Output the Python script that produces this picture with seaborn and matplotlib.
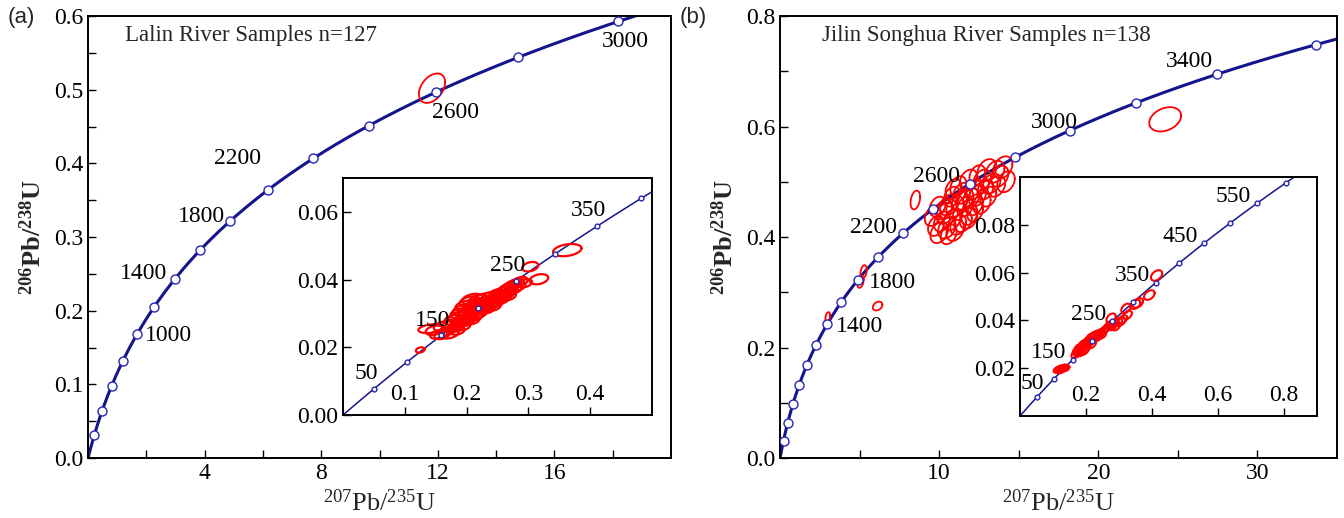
import numpy as np
import pandas as pd
import matplotlib
matplotlib.use("Agg")
import matplotlib.pyplot as plt
import seaborn as sns

# ---------------------------------------------------------------- data
# U decay constants (per Myr) for the Wetherill concordia
LAMBDA_238 = 1.55125e-4
LAMBDA_235 = 9.8485e-4

# age ticks (Ma) on the concordia curves
main_a_ticks = [200, 400, 600, 800, 1000, 1200, 1400, 1600, 1800, 2000,
                2200, 2400, 2600, 2800, 3000]
main_a_labels = [1000, 1400, 1800, 2200, 2600, 3000]
main_b_ticks = [200, 400, 600, 800, 1000, 1200, 1400, 1600, 1800, 2000,
                2200, 2400, 2600, 2800, 3000, 3200, 3400, 3600]
main_b_labels = [1400, 1800, 2200, 2600, 3000, 3400]
inset_a_ticks = [50, 100, 150, 200, 250, 300, 350, 400]
inset_a_labels = [50, 150, 250, 350]
inset_b_ticks = [50, 100, 150, 200, 250, 300, 350, 400, 450, 500, 550, 600]
inset_b_labels = [50, 150, 250, 350, 450, 550]

# Lalin River: Precambrian grain
a_old_x = [11.8]
a_old_y = [0.502]
a_old_sx = [0.45]
a_old_sy = [0.020]

# Lalin River: Phanerozoic grains (207Pb/235U, 206Pb/238U, 2-sigma half axes)
a_young_x = [0.125, 0.142, 0.148, 0.155, 0.160, 0.163, 0.168, 0.172, 0.175, 0.178,
             0.180, 0.183, 0.185, 0.187, 0.189, 0.190, 0.192, 0.194, 0.196, 0.197,
             0.199, 0.200, 0.201, 0.203, 0.205, 0.206, 0.207, 0.209, 0.210, 0.211,
             0.213, 0.214, 0.216, 0.217, 0.219, 0.220, 0.222, 0.224, 0.226, 0.228,
             0.230, 0.231, 0.233, 0.235, 0.237, 0.239, 0.241, 0.243, 0.246, 0.248,
             0.250, 0.252, 0.255, 0.257, 0.260, 0.262, 0.265, 0.267, 0.270, 0.272,
             0.275, 0.278, 0.281, 0.284, 0.287, 0.294, 0.303, 0.317, 0.268, 0.363]
a_young_y = [0.0192, 0.0255, 0.0250, 0.0238, 0.0236, 0.0262, 0.0248, 0.0240, 0.0268, 0.0256,
             0.0281, 0.0262, 0.0249, 0.0290, 0.0272, 0.0300, 0.0281, 0.0262, 0.0310, 0.0292,
             0.0276, 0.0322, 0.0302, 0.0286, 0.0335, 0.0313, 0.0296, 0.0280, 0.0342, 0.0322,
             0.0305, 0.0291, 0.0330, 0.0314, 0.0299, 0.0340, 0.0322, 0.0308, 0.0333, 0.0318,
             0.0345, 0.0327, 0.0312, 0.0338, 0.0324, 0.0350, 0.0333, 0.0320, 0.0345, 0.0332,
             0.0358, 0.0343, 0.0355, 0.0342, 0.0365, 0.0352, 0.0372, 0.0360, 0.0378, 0.0366,
             0.0385, 0.0372, 0.0390, 0.0380, 0.0395, 0.0389, 0.0438, 0.0401, 0.0352, 0.0487]
a_young_sx = [0.007, 0.020, 0.014, 0.014, 0.012, 0.016, 0.013, 0.015, 0.014, 0.012,
              0.016, 0.013, 0.012, 0.015, 0.014, 0.016, 0.013, 0.012, 0.018, 0.014,
              0.013, 0.018, 0.015, 0.013, 0.016, 0.014, 0.013, 0.012, 0.017, 0.015,
              0.013, 0.012, 0.015, 0.014, 0.013, 0.016, 0.014, 0.012, 0.015, 0.013,
              0.016, 0.014, 0.012, 0.015, 0.013, 0.014, 0.013, 0.012, 0.014, 0.012,
              0.013, 0.012, 0.014, 0.012, 0.013, 0.012, 0.013, 0.012, 0.013, 0.011,
              0.012, 0.011, 0.012, 0.011, 0.012, 0.012, 0.013, 0.015, 0.012, 0.023]
a_young_sy = [0.0008, 0.0013, 0.0014, 0.0013, 0.0012, 0.0015, 0.0013, 0.0014, 0.0014, 0.0012,
              0.0015, 0.0013, 0.0012, 0.0015, 0.0014, 0.0015, 0.0013, 0.0012, 0.0016, 0.0014,
              0.0013, 0.0016, 0.0014, 0.0013, 0.0015, 0.0014, 0.0013, 0.0012, 0.0016, 0.0014,
              0.0013, 0.0012, 0.0015, 0.0014, 0.0013, 0.0015, 0.0014, 0.0012, 0.0014, 0.0013,
              0.0015, 0.0014, 0.0012, 0.0014, 0.0013, 0.0014, 0.0013, 0.0012, 0.0014, 0.0013,
              0.0014, 0.0013, 0.0014, 0.0013, 0.0014, 0.0013, 0.0014, 0.0013, 0.0014, 0.0012,
              0.0013, 0.0012, 0.0013, 0.0012, 0.0013, 0.0012, 0.0014, 0.0015, 0.0013, 0.0018]

# Jilin Songhua River: Precambrian grains
b_old_x = [12.7, 13.0, 13.3, 13.5, 13.8, 14.0, 12.9, 13.6, 12.4, 14.2,
           11.84, 12.15, 11.42, 10.8, 11.0, 11.63, 10.38, 12.26, 12.68, 13.09,
           11.2, 11.6, 12.0, 10.6, 11.3, 12.4, 11.9, 10.9, 12.2,
           10.8, 10.17, 10.48, 11.2, 11.84, 9.8, 10.0, 10.6, 11.0, 9.6,
           11.5, 10.3, 9.9,
           8.5, 5.25, 5.05, 6.13, 3.0, 24.2]
b_old_y = [0.503, 0.521, 0.497, 0.518, 0.510, 0.526, 0.486, 0.492, 0.512, 0.500,
           0.503, 0.485, 0.479, 0.473, 0.455, 0.455, 0.443, 0.446, 0.461, 0.473,
           0.492, 0.468, 0.470, 0.458, 0.465, 0.475, 0.440, 0.487, 0.458,
           0.431, 0.428, 0.416, 0.422, 0.434, 0.420, 0.408, 0.405, 0.412, 0.438,
           0.428, 0.450, 0.455,
           0.467, 0.337, 0.319, 0.275, 0.255, 0.613]
b_old_sx = [0.55, 0.60, 0.55, 0.60, 0.55, 0.60, 0.50, 0.55, 0.50, 0.55,
            0.55, 0.50, 0.55, 0.50, 0.55, 0.50, 0.55, 0.50, 0.55, 0.50,
            0.50, 0.55, 0.50, 0.55, 0.50, 0.55, 0.50, 0.50, 0.55,
            0.55, 0.50, 0.55, 0.50, 0.55, 0.50, 0.55, 0.50, 0.55, 0.50,
            0.55, 0.50, 0.50,
            0.30, 0.20, 0.20, 0.30, 0.15, 1.00]
b_old_sy = [0.019, 0.020, 0.018, 0.020, 0.019, 0.020, 0.018, 0.019, 0.018, 0.019,
            0.019, 0.018, 0.019, 0.018, 0.019, 0.018, 0.019, 0.018, 0.019, 0.018,
            0.018, 0.019, 0.018, 0.019, 0.018, 0.019, 0.018, 0.018, 0.019,
            0.019, 0.018, 0.019, 0.018, 0.019, 0.018, 0.019, 0.018, 0.019, 0.018,
            0.019, 0.018, 0.018,
            0.017, 0.012, 0.011, 0.008, 0.009, 0.022]

# Jilin Songhua River: Phanerozoic grains
b_young_x = [0.112, 0.119, 0.126, 0.133, 0.140, 0.122, 0.130,
             0.168, 0.172, 0.176, 0.178, 0.182, 0.185, 0.187, 0.190, 0.192, 0.195,
             0.197, 0.200, 0.203, 0.205, 0.208, 0.210, 0.213, 0.215, 0.218, 0.221,
             0.224, 0.228, 0.232, 0.236, 0.240, 0.245, 0.250, 0.255, 0.186, 0.199,
             0.262, 0.270, 0.276, 0.280, 0.286, 0.291, 0.296, 0.306, 0.312, 0.321,
             0.326, 0.350, 0.357, 0.392, 0.414]
b_young_y = [0.0193, 0.0198, 0.0201, 0.0203, 0.0200, 0.0190, 0.0195,
             0.0258, 0.0272, 0.0262, 0.0285, 0.0270, 0.0292, 0.0278, 0.0300, 0.0285, 0.0272,
             0.0305, 0.0292, 0.0312, 0.0298, 0.0320, 0.0306, 0.0328, 0.0313, 0.0300, 0.0335,
             0.0320, 0.0340, 0.0327, 0.0345, 0.0334, 0.0350, 0.0340, 0.0358, 0.0266, 0.0280,
             0.0368, 0.0380, 0.0409, 0.0375, 0.0388, 0.0374, 0.0392, 0.0395, 0.0405, 0.0450,
             0.0423, 0.0467, 0.0473, 0.0506, 0.0588]
b_young_sx = [0.010, 0.011, 0.010, 0.011, 0.010, 0.010, 0.011,
              0.012, 0.012, 0.011, 0.012, 0.012, 0.011, 0.012, 0.012, 0.011, 0.012,
              0.012, 0.011, 0.012, 0.012, 0.011, 0.012, 0.012, 0.011, 0.012, 0.012,
              0.011, 0.012, 0.012, 0.011, 0.012, 0.012, 0.011, 0.012, 0.011, 0.012,
              0.012, 0.012, 0.014, 0.012, 0.012, 0.012, 0.013, 0.013, 0.013, 0.014,
              0.013, 0.015, 0.016, 0.016, 0.017]
b_young_sy = [0.0012, 0.0013, 0.0012, 0.0013, 0.0012, 0.0012, 0.0013,
              0.0016, 0.0016, 0.0015, 0.0016, 0.0016, 0.0015, 0.0016, 0.0016, 0.0015, 0.0016,
              0.0016, 0.0015, 0.0016, 0.0016, 0.0015, 0.0016, 0.0016, 0.0015, 0.0016, 0.0016,
              0.0015, 0.0016, 0.0016, 0.0015, 0.0016, 0.0016, 0.0015, 0.0016, 0.0015, 0.0016,
              0.0016, 0.0016, 0.0020, 0.0016, 0.0016, 0.0016, 0.0017, 0.0017, 0.0017, 0.0020,
              0.0018, 0.0019, 0.0020, 0.0020, 0.0022]

# ---------------------------------------------------------------- style
sns.set_theme(style="ticks")
plt.rcParams["font.family"] = ["Liberation Serif", "DejaVu Serif"]
plt.rcParams["mathtext.default"] = "regular"
plt.rcParams["axes.edgecolor"] = "black"
plt.rcParams["axes.linewidth"] = 1.4

CURVE = "#14148c"
MARK_EDGE = "#2626b4"
RED = "#ff0000"
TICK_FS = 17
AGE_FS = 17
TITLE_FS = 16.5


def concordia(t):
    t = np.asarray(t, dtype=float)
    return np.expm1(LAMBDA_235 * t), np.expm1(LAMBDA_238 * t)


def draw_curve(ax, t_max, ticks, lw, ms):
    t = np.linspace(0, t_max, 600)
    cx, cy = concordia(t)
    sns.lineplot(x=cx, y=cy, ax=ax, color=CURVE, lw=lw, sort=False,
                 estimator=None, zorder=2)
    tx, ty = concordia(ticks)
    sns.scatterplot(x=tx, y=ty, ax=ax, s=ms, facecolor="white",
                    edgecolor=MARK_EDGE, linewidth=1.0, zorder=4)


def draw_ellipses(ax, xs, ys, sxs, sys_, rho, lw):
    th = np.linspace(0, 2 * np.pi, 80)
    k = np.sqrt(1 - rho ** 2)
    for cx, cy, sx, sy in zip(xs, ys, sxs, sys_):
        ex = cx + sx * np.cos(th)
        ey = cy + sy * (rho * np.cos(th) + k * np.sin(th))
        ax.plot(ex, ey, color=RED, lw=lw, zorder=3)


def label_ages(ax, ages, offsets, size):
    for age in ages:
        x, y = concordia(age)
        dx, dy, ha, va = offsets[age]
        ax.annotate(str(age), xy=(float(x), float(y)), xytext=(dx, dy),
                    textcoords="offset points", ha=ha, va=va,
                    fontsize=size, color="black", zorder=6)


def frame(ax):
    for s in ax.spines.values():
        s.set_visible(True)
        s.set_color("black")
        s.set_linewidth(1.4)
    ax.tick_params(which="both", direction="in", length=6, width=1.0,
                   top=False, right=False, colors="black", labelsize=TICK_FS)


fig = plt.figure(figsize=(13.44, 5.18), dpi=100)
fig.patch.set_facecolor("white")

ax_a = fig.add_axes([0.0655, 0.1158, 0.4338, 0.8533])
ax_b = fig.add_axes([0.5804, 0.1158, 0.4144, 0.8533])
in_a = fig.add_axes([0.2552, 0.1988, 0.2299, 0.4576])
in_b = fig.add_axes([0.7589, 0.1969, 0.2210, 0.4614])

# ---------------------------------------------------------------- panel (a)
draw_curve(ax_a, 3040, main_a_ticks, 2.2, 42)
draw_ellipses(ax_a, a_old_x, a_old_y, a_old_sx, a_old_sy, 0.4, 1.3)
ax_a.set_xlim(0, 20)
ax_a.set_ylim(0, 0.6)
ax_a.set_xticks([4, 8, 12, 16])
ax_a.set_xticklabels(["4", "8", "12", "16"])
ax_a.set_xticks([2, 6, 10, 14, 18], minor=True)
ax_a.set_yticks([0, 0.1, 0.2, 0.3, 0.4, 0.5, 0.6])
ax_a.set_yticklabels(["0.0", "0.1", "0.2", "0.3", "0.4", "0.5", "0.6"])
ax_a.set_yticks([0.05, 0.15, 0.25, 0.35, 0.45, 0.55], minor=True)
frame(ax_a)
label_ages(ax_a, main_a_labels, {
    1000: (6, -1, "left", "center"),
    1400: (-5, 4, "right", "center"),
    1800: (-4, 3, "right", "center"),
    2200: (-38, 0, "right", "center"),
    2600: (-3, -7, "left", "top"),
    3000: (5, -7, "center", "top"),
}, AGE_FS)
ax_a.text(0.063, 0.955, "Lalin River Samples n=127", transform=ax_a.transAxes,
          fontsize=TITLE_FS, ha="left", va="center")
ax_a.set_xlabel("$^{207}$Pb/$^{235}$U", fontsize=19, labelpad=4)
ax_a.set_ylabel("$^{206}$Pb/$^{238}$U", fontsize=19, fontweight="bold", labelpad=6)

draw_curve(in_a, 420, inset_a_ticks, 1.1, 12)
draw_ellipses(in_a, a_young_x, a_young_y, a_young_sx, a_young_sy, 0.3, 1.6)
in_a.set_facecolor("white")
in_a.set_xlim(0, 0.5)
in_a.set_ylim(0, 0.07)
in_a.set_xticks([0.1, 0.2, 0.3, 0.4])
in_a.set_xticklabels(["0.1", "0.2", "0.3", "0.4"])
in_a.set_yticks([0, 0.02, 0.04, 0.06])
in_a.set_yticklabels(["0.00", "0.02", "0.04", "0.06"])
frame(in_a)
in_a.tick_params(axis="x", pad=-22)
label_ages(in_a, inset_a_labels, {a: (-6, 11, "center", "center") for a in inset_a_labels}, AGE_FS)

# ---------------------------------------------------------------- panel (b)
draw_curve(ax_b, 3640, main_b_ticks, 2.2, 42)
draw_ellipses(ax_b, b_old_x, b_old_y, b_old_sx, b_old_sy, 0.3, 1.3)
ax_b.set_xlim(0, 35)
ax_b.set_ylim(0, 0.8)
ax_b.set_xticks([10, 20, 30])
ax_b.set_xticklabels(["10", "20", "30"])
ax_b.set_xticks([5, 15, 25], minor=True)
ax_b.set_yticks([0, 0.2, 0.4, 0.6, 0.8])
ax_b.set_yticklabels(["0.0", "0.2", "0.4", "0.6", "0.8"])
ax_b.set_yticks([0.1, 0.3, 0.5, 0.7], minor=True)
frame(ax_b)
label_ages(ax_b, main_b_labels, {
    1400: (6, -2, "left", "center"),
    1800: (8, -2, "left", "center"),
    2200: (-4, 4, "right", "center"),
    2600: (-7, 5, "right", "center"),
    3000: (-11, 6, "center", "center"),
    3400: (-20, 9, "center", "center"),
}, AGE_FS)
ax_b.text(0.075, 0.955, "Jilin Songhua River Samples n=138", transform=ax_b.transAxes,
          fontsize=TITLE_FS, ha="left", va="center")
ax_b.set_xlabel("$^{207}$Pb/$^{235}$U", fontsize=19, labelpad=4)
ax_b.set_ylabel("$^{206}$Pb/$^{238}$U", fontsize=19, fontweight="bold", labelpad=6)

draw_curve(in_b, 614, inset_b_ticks, 1.1, 12)
draw_ellipses(in_b, b_young_x, b_young_y, b_young_sx, b_young_sy, 0.4, 1.5)
in_b.set_facecolor("white")
in_b.set_xlim(0, 0.9)
in_b.set_ylim(0, 0.1)
in_b.set_xticks([0.2, 0.4, 0.6, 0.8])
in_b.set_xticklabels(["0.2", "0.4", "0.6", "0.8"])
in_b.set_yticks([0.02, 0.04, 0.06, 0.08])
in_b.set_yticklabels(["0.02", "0.04", "0.06", "0.08"])
frame(in_b)
in_b.tick_params(axis="x", pad=-22)
offs_b = {a: (-17, 5, "center", "center") for a in inset_b_labels}
offs_b[50] = (-3, 10, "center", "center")
label_ages(in_b, inset_b_labels, offs_b, AGE_FS)

# panel letters
fig.text(8 / 1344, 1 - 18 / 518, "(a)", fontsize=16, family=["Liberation Sans", "DejaVu Sans"],
         ha="left", va="center")
fig.text(680 / 1344, 1 - 18 / 518, "(b)", fontsize=16, family=["Liberation Sans", "DejaVu Sans"],
         ha="left", va="center")

fig.savefig("out.png", dpi=100, facecolor="white")
